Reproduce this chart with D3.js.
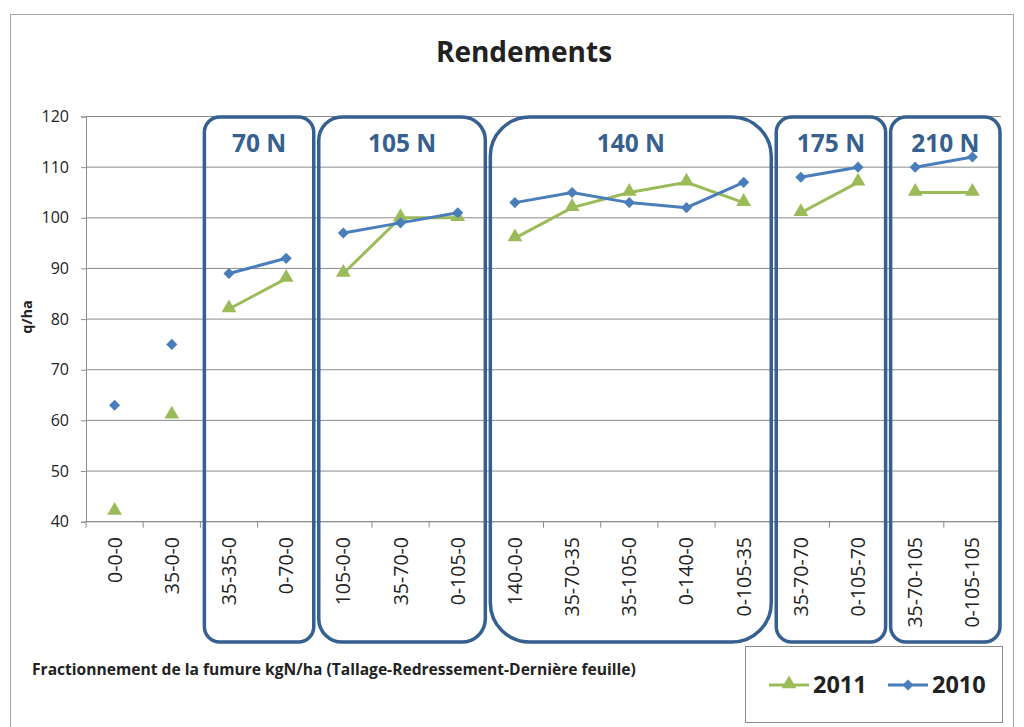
<!DOCTYPE html>
<html>
<head>
<meta charset="utf-8">
<script src="https://cdn.jsdelivr.net/npm/d3@7"></script>
<style>
  body { margin: 0; background: #fff; }
  svg { font-family: "Open Sans", Lato, sans-serif; }
</style>
</head>
<body>
<div id="graph"></div>
<script>
'use strict';

// categories (fractionnement Tallage-Redressement-Dernière feuille)
const categories = ['0-0-0', '35-0-0', '35-35-0', '0-70-0', '105-0-0', '35-70-0', '0-105-0',
  '140-0-0', '35-70-35', '35-105-0', '0-140-0', '0-105-35', '35-70-70', '0-105-70',
  '35-70-105', '0-105-105'];

const values2011 = [42, 61, 82, 88, 89, 100, 100, 96, 102, 105, 107, 103, 101, 107, 105, 105];
const values2010 = [63, 75, 89, 92, 97, 99, 101, 103, 105, 103, 102, 107, 108, 110, 110, 112];

const groupLabels = ['70 N', '105 N', '140 N', '175 N', '210 N'];
const groupStart = [2, 4, 7, 12, 14];
const groupEnd = [3, 6, 11, 13, 15];

const yTicks = [40, 50, 60, 70, 80, 90, 100, 110, 120];

const BLUE = '#4a7ebb';
const GREEN = '#9bbb59';
const BOX = '#35608f';

const svg = d3.select('#graph')
  .append('svg')
  .attr('width', 1024)
  .attr('height', 727);

// outer chart frame
svg.append('rect')
  .attr('x', 10.5).attr('y', 14.5)
  .attr('width', 1003).attr('height', 720)
  .attr('fill', 'none')
  .attr('stroke', '#a6a6a6');

svg.append('text')
  .attr('x', 524).attr('y', 62)
  .attr('text-anchor', 'middle')
  .style('font-size', '28px')
  .style('font-weight', 'bold')
  .attr('fill', '#222')
  .text('Rendements');

const x = d3.scaleBand()
  .domain(categories)
  .range([86, 1001]);

const y = d3.scaleLinear()
  .domain([40, 120])
  .range([521.7, 116.5]);

// gridlines
svg.append('g')
  .selectAll('line')
  .data(yTicks)
  .enter()
  .append('line')
  .attr('x1', 86).attr('x2', 1001)
  .attr('y1', d => y(d)).attr('y2', d => y(d))
  .attr('stroke', '#8c8c8c')
  .attr('stroke-width', 1);

// y axis
let yAxis = d3.axisLeft(y).tickValues(yTicks).tickSize(5).tickPadding(12);
let gy = svg.append('g')
  .attr('transform', 'translate(86, 0)')
  .call(yAxis);
gy.selectAll('line, path').attr('stroke', '#8c8c8c');
gy.selectAll('text')
  .style('font-size', '16px')
  .style('font-family', '"Open Sans", sans-serif')
  .attr('fill', '#222');

// x axis line + ticks at band boundaries
let gx = svg.append('g');
gx.append('line')
  .attr('x1', 86).attr('x2', 1001)
  .attr('y1', y(40)).attr('y2', y(40))
  .attr('stroke', '#8c8c8c');
gx.selectAll('.tick')
  .data(categories.concat(['end']))
  .enter()
  .append('line')
  .attr('x1', (d, i) => 86 + i * x.bandwidth())
  .attr('x2', (d, i) => 86 + i * x.bandwidth())
  .attr('y1', y(40)).attr('y2', y(40) + 6)
  .attr('stroke', '#8c8c8c');

gx.selectAll('.xlabel')
  .data(categories)
  .enter()
  .append('text')
  .attr('transform', d => `translate(${x(d) + x.bandwidth() / 2 + 7}, 537)rotate(-90)`)
  .attr('text-anchor', 'end')
  .style('font-size', '19.5px')
  .attr('fill', '#222')
  .text(d => d);

svg.append('text')
  .attr('transform', 'translate(32, 317)rotate(-90)')
  .attr('text-anchor', 'middle')
  .style('font-size', '14.5px')
  .style('font-weight', 'bold')
  .attr('fill', '#222')
  .text('q/ha');

svg.append('text')
  .attr('x', 32).attr('y', 675)
  .style('font-size', '15.6px')
  .style('font-weight', 'bold')
  .attr('fill', '#222')
  .text('Fractionnement de la fumure kgN/ha (Tallage-Redressement-Dernière feuille)');

// group boxes
const groups = groupLabels.map((label, i) => {
  let x0 = x(categories[groupStart[i]]) + 4;
  let x1 = x(categories[groupEnd[i]]) + x.bandwidth() - 1;
  return { label: label, x0: x0, x1: x1 };
});

svg.append('g')
  .selectAll('rect')
  .data(groups)
  .enter()
  .append('rect')
  .attr('x', g => g.x0)
  .attr('y', 117)
  .attr('width', g => g.x1 - g.x0)
  .attr('height', 525)
  .attr('rx', g => (g.x1 - g.x0) * 0.14)
  .attr('fill', 'none')
  .attr('stroke', BOX)
  .attr('stroke-width', 3.5);

svg.append('g')
  .selectAll('text')
  .data(groups)
  .enter()
  .append('text')
  .attr('x', g => (g.x0 + g.x1) / 2)
  .attr('y', 152)
  .attr('text-anchor', 'middle')
  .style('font-size', '24.5px')
  .style('font-weight', 'bold')
  .attr('fill', BOX)
  .text(g => g.label);

// series
const cx = i => x(categories[i]) + x.bandwidth() / 2;
const line = d3.line()
  .x(d => cx(d.i))
  .y(d => y(d.v));

const triangle = d3.symbol().type(d3.symbolTriangle).size(95);
const diamond = d3.symbol().type(d3.symbolSquare).size(62);

function drawSeries(values, color, kind) {
  let g = svg.append('g');
  groupStart.forEach((s, k) => {
    let pts = [];
    for (let i = s; i <= groupEnd[k]; i++) pts.push({ i: i, v: values[i] });
    g.append('path')
      .attr('d', line(pts))
      .attr('fill', 'none')
      .attr('stroke', color)
      .attr('stroke-width', 3);
  });
  g.selectAll('.m')
    .data(values)
    .enter()
    .append('path')
    .attr('d', kind == 'tri' ? triangle : diamond)
    .attr('transform', (d, i) => kind == 'tri'
      ? `translate(${cx(i)}, ${y(d) - 1})`
      : `translate(${cx(i)}, ${y(d)})rotate(45)`)
    .attr('fill', color);
}

drawSeries(values2011, GREEN, 'tri');
drawSeries(values2010, BLUE, 'dia');

// legend
let lg = svg.append('g');
lg.append('rect')
  .attr('x', 745.5).attr('y', 646.5)
  .attr('width', 257).attr('height', 76)
  .attr('fill', '#fff')
  .attr('stroke', '#8c8c8c');

const legendItems = [
  { name: '2011', color: GREEN, kind: 'tri', x: 769 },
  { name: '2010', color: BLUE, kind: 'dia', x: 888 },
];
legendItems.forEach(it => {
  lg.append('line')
    .attr('x1', it.x).attr('x2', it.x + 40)
    .attr('y1', 685).attr('y2', 685)
    .attr('stroke', it.color)
    .attr('stroke-width', 3);
  lg.append('path')
    .attr('d', it.kind == 'tri' ? triangle : diamond)
    .attr('transform', it.kind == 'tri'
      ? `translate(${it.x + 20}, 684)`
      : `translate(${it.x + 20}, 685)rotate(45)`)
    .attr('fill', it.color);
  lg.append('text')
    .attr('x', it.x + 44).attr('y', 693)
    .style('font-size', '23.5px')
    .style('font-weight', 'bold')
    .attr('fill', '#222')
    .text(it.name);
});
</script>
</body>
</html>
